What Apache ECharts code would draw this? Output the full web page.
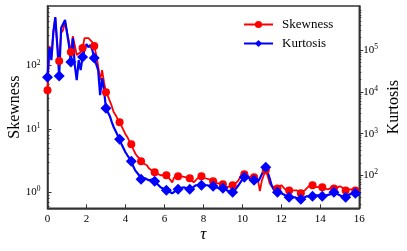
<!DOCTYPE html>
<html><head><meta charset="utf-8">
<script src="https://cdn.jsdelivr.net/npm/echarts@6/dist/echarts.min.js"></script>
<style>html,body{margin:0;padding:0;background:#fff}#c{width:407px;height:251px}</style>
</head><body><div id="c"></div>
<script>
// tau sampled every 0.1 from 0 to 16
const tauStep = 0.1;
const skewness = [
40.9,204,141,340,566,211,118,327,365,489,
489,236,164,293,211,147,147,164,189,273,
273,273,283,236,204,147,98,58.9,84.9,54.7,
38.0,32.9,27.4,22.8,18.3,16.4,14.2,12.7,11.0,9.5,
8.21,7.36,6.36,5.70,4.75,4.10,3.68,3.42,3.07,2.85,
2.96,2.65,2.37,2.21,2.13,2.05,1.98,1.91,1.84,1.91,
1.84,1.84,1.71,1.59,1.42,1.71,1.77,1.77,1.77,1.77,
1.71,1.71,1.65,1.65,1.53,1.42,1.53,1.65,1.77,1.77,
1.71,1.65,1.65,1.59,1.59,1.48,1.37,1.32,1.37,1.37,
1.32,1.28,1.19,1.19,1.23,1.28,1.32,1.42,1.53,1.77,
1.91,1.91,1.91,1.71,1.77,1.77,1.71,1.77,1.53,1.03,
1.53,1.84,2.21,1.77,1.37,1.23,1.19,1.19,1.14,1.19,
1.28,1.23,1.10,1.06,1.06,1.06,1.06,1.06,1.06,1.03,
0.954,0.99,1.06,1.14,1.23,1.28,1.28,1.23,1.19,1.14,
1.19,1.19,1.14,1.06,1.10,1.14,1.19,1.14,1.14,1.14,
1.23,1.28,1.14,1.06,1.10,1.14,1.10,1.10,1.06,1.06,
1.03
];
const kurtosis = [
22500,117000,57500,270000,618000,132000,23800,337000,302000,524000,
554000,132000,51600,194000,43700,19100,57500,33100,67900,100000,
139000,117000,132000,100000,64300,46200,33100,8340,21300,11000,
4070,3260,2610,1880,1420,1140,916,734,557,447,
358,303,257,218,165,132,119,100.5,80.5,76.2,
85.1,85.1,76.2,76.2,80.5,72.2,64.7,58.0,51.9,51.9,
46.5,44.0,41.6,39.4,37.2,39.4,44.0,46.5,49.1,51.9,
51.9,49.1,46.5,46.5,49.1,54.8,58.0,58.0,58.0,58.0,
58.0,58.0,58.0,54.8,54.8,54.8,51.9,51.9,49.1,49.1,
49.1,46.5,44.0,41.6,39.4,39.4,44.0,49.1,58.0,68.4,
80.5,89.9,112,89.9,80.5,76.2,76.2,76.2,72.2,85.1,
106,132,156,119,85.1,58.0,46.5,41.6,39.4,39.4,
37.2,35.2,33.3,31.6,29.9,29.9,29.9,29.9,28.3,26.7,
26.7,28.3,29.9,31.6,31.6,31.6,31.6,33.3,33.3,33.3,
31.6,31.6,31.6,33.3,33.3,35.2,37.2,39.4,39.4,35.2,
33.3,31.6,31.6,29.9,31.6,35.2,37.2,37.2,37.2,35.2,
33.3
];
const markerIndex = [0,6,12,18,24,30,37,43,48,55,61,67,73,79,85,90,95,101,106,112,118,124,130,136,141,147,153,158];
const xTicks = [0,2,4,6,8,10,12,14,16];
const skewRange = [0.552, 877];
const kurtRange = [16.3, 1.135e6];
const skewMajor = [1,10,100];
const skewMinor = [0.6,0.7,0.8,0.9,2,3,4,5,6,7,8,9,20,30,40,50,60,70,80,90,200,300,400,500,600,700,800];
const kurtMajor = [100,1000,10000,100000];
const kurtMinor = [20,30,40,50,60,70,80,90,200,300,400,500,600,700,800,900,2000,3000,4000,5000,6000,7000,8000,9000,20000,30000,40000,50000,60000,70000,80000,90000,200000,300000,400000,500000,600000,700000,800000,900000];

const L = Math.log10;
const SERIF = "'Liberation Serif','Times New Roman',serif";
const AX = '#333';
const markSet = new Set(markerIndex);
const supLabel = {
  formatter: v => '{b|10}{s|' + Math.round(v) + '}',
  rich: {
    b: {fontSize: 11, fontFamily: SERIF, color: '#000', lineHeight: 14},
    s: {fontSize: 7.5, fontFamily: SERIF, color: '#000', verticalAlign: 'top', lineHeight: 9}
  }
};

function majorAxis(pos, range, majors, name, inside, margin, gap) {
  return {
    type: 'value', position: pos, min: L(range[0]), max: L(range[1]),
    axisLine: {show: true, onZero: false, lineStyle: {color: AX, width: 1.5}},
    axisTick: {show: true, inside: inside, length: 4, lineStyle: {color: AX}, customValues: majors.map(L)},
    axisLabel: Object.assign({show: true, margin: margin, customValues: majors.map(L)}, supLabel),
    splitLine: {show: false},
    name: name, nameLocation: 'middle', nameGap: gap, nameMoveOverlap: false,
    nameTextStyle: {fontSize: 16, fontFamily: SERIF, color: '#000'}
  };
}
function minorAxis(pos, range, minors, inside) {
  return {
    type: 'value', position: pos, min: L(range[0]), max: L(range[1]),
    axisLine: {show: false, onZero: false},
    axisTick: {show: true, inside: inside, length: 2, lineStyle: {color: AX}, customValues: minors.map(L)},
    axisLabel: {show: false},
    splitLine: {show: false}
  };
}
function sym(size) {
  return (v, p) => markSet.has(p.dataIndex) ? size : 0;
}

const chart = echarts.init(document.getElementById('c'), null, {renderer: 'canvas'});
chart.setOption({
  animation: false,
  grid: {left: 47.5, right: 47.7, top: 6, bottom: 42.7, show: true, borderColor: AX, borderWidth: 1.5,
         containLabel: false, outerBoundsMode: 'none'},
  legend: {
    orient: 'vertical', left: 243, top: 18, padding: 0, itemWidth: 29, itemHeight: 9, itemGap: 6,
    data: ['Skewness', 'Kurtosis'],
    textStyle: {fontSize: 13, fontFamily: SERIF, color: '#000', padding: [0, 0, 0, 4]}
  },
  xAxis: {
    type: 'value', min: 0, max: 16, interval: 2,
    axisLine: {show: true, onZero: false, lineStyle: {color: AX, width: 1.5}},
    axisTick: {show: true, inside: true, length: 4, lineStyle: {color: AX}, customValues: xTicks},
    axisLabel: {margin: 5, fontSize: 11, fontFamily: SERIF, color: '#000', customValues: xTicks},
    splitLine: {show: false},
    name: 'τ', nameLocation: 'middle', nameGap: 18, nameMoveOverlap: false,
    nameTextStyle: {fontSize: 17, fontStyle: 'italic', fontFamily: SERIF, color: '#000'}
  },
  yAxis: [
    majorAxis('left', skewRange, skewMajor, 'Skewness', true, 7, 25),
    minorAxis('left', skewRange, skewMinor, true),
    majorAxis('right', kurtRange, kurtMajor, 'Kurtosis', false, 4, 26),
    minorAxis('right', kurtRange, kurtMinor, false)
  ],
  series: [
    {
      name: 'Skewness', type: 'line', yAxisIndex: 0,
      data: skewness.map((v, i) => [i * tauStep, L(v)]),
      symbol: 'circle', symbolSize: sym(8), showAllSymbol: true,
      color: '#ff0000', lineStyle: {width: 1.8, color: '#ff0000'}, itemStyle: {color: '#ff0000'},
      emphasis: {disabled: true}
    },
    {
      name: 'Kurtosis', type: 'line', yAxisIndex: 2,
      data: kurtosis.map((v, i) => [i * tauStep, L(v)]),
      symbol: 'diamond', symbolSize: sym(11), showAllSymbol: true,
      color: '#0000ff', lineStyle: {width: 2.2, color: '#0000ff'}, itemStyle: {color: '#0000ff'},
      emphasis: {disabled: true}
    }
  ]
});
</script>
</body></html>
